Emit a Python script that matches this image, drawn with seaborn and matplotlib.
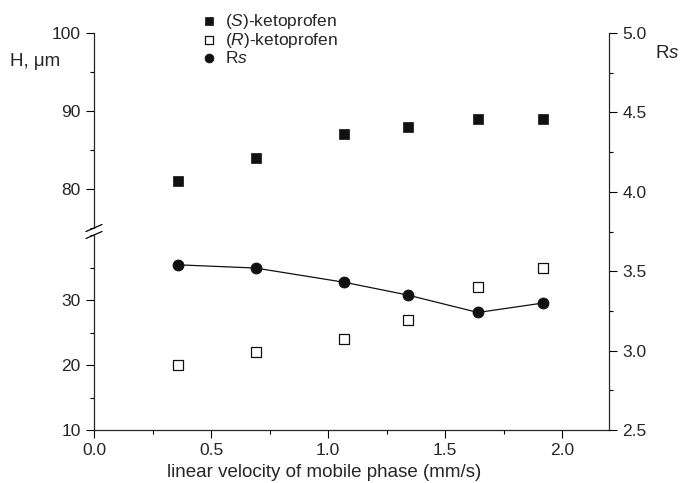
import matplotlib
matplotlib.use("Agg")
import matplotlib.pyplot as plt
import seaborn as sns
import pandas as pd
from matplotlib.ticker import MultipleLocator

# data
velocity = [0.36, 0.69, 1.07, 1.34, 1.64, 1.92]
h_s_keto = [81, 84, 87, 88, 89, 89]
h_r_keto = [20, 22, 24, 27, 32, 35]
rs_values = [3.54, 3.52, 3.43, 3.35, 3.24, 3.30]

df = pd.DataFrame({"u": velocity, "hs": h_s_keto, "hr": h_r_keto, "rs": rs_values})

sns.set_style("ticks")
plt.rcParams["font.family"] = ["Liberation Sans", "DejaVu Sans"]
plt.rcParams["mathtext.fontset"] = "custom"
plt.rcParams["mathtext.rm"] = "Liberation Sans"
plt.rcParams["mathtext.it"] = "Liberation Sans:italic"
plt.rcParams["font.size"] = 12.5

fig = plt.figure(figsize=(6.81, 4.83), dpi=100)
W, H = 681, 483
x0, x1 = 94, 609


def pos(top, bottom):
    return [x0 / W, 1 - bottom / H, (x1 - x0) / W, (bottom - top) / H]


ax_top = fig.add_axes(pos(33, 228))
ax_bot = fig.add_axes(pos(235, 430))
ax_rs = fig.add_axes(pos(33, 430))

for ax in (ax_top, ax_bot, ax_rs):
    ax.set_xlim(0, 2.2)
    ax.patch.set_alpha(0)
    for s in ax.spines.values():
        s.set_linewidth(0.9)
    ax.tick_params(which="major", length=6, width=0.8, labelsize=12.5, color="black")
    ax.tick_params(which="minor", length=3, width=0.8, color="black")

# upper part of H axis
sns.scatterplot(data=df, x="u", y="hs", ax=ax_top, marker="s", s=55, color="#111111",
                edgecolor="#111111", linewidth=0.5, label="($S$)-ketoprofen", legend=False)
ax_top.set_ylim(75, 100)
ax_top.yaxis.set_minor_locator(MultipleLocator(5))
ax_top.set_yticks([80, 90, 100])
ax_top.spines[["top", "right", "bottom"]].set_visible(False)
ax_top.set_xticks([])
ax_top.set_xlabel("")
ax_top.set_ylabel("")

# lower part of H axis
sns.scatterplot(data=df, x="u", y="hr", ax=ax_bot, marker="s", s=55, facecolor="white",
                edgecolor="#111111", linewidth=0.9, label="($R$)-ketoprofen", legend=False)
ax_bot.set_ylim(10, 40)
ax_bot.set_yticks([10, 20, 30])
ax_bot.yaxis.set_minor_locator(MultipleLocator(5))
ax_bot.xaxis.set_minor_locator(MultipleLocator(0.25))
ax_bot.set_xticks([0.0, 0.5, 1.0, 1.5, 2.0])
ax_bot.set_xticklabels(["0.0", "0.5", "1.0", "1.5", "2.0"])
ax_bot.spines[["top", "right"]].set_visible(False)
ax_bot.set_xlabel("linear velocity of mobile phase (mm/s)", fontsize=13.5, va="top")
ax_bot.xaxis.set_label_coords(0.447, -0.175)
ax_bot.set_ylabel("")

# resolution on the right axis
sns.lineplot(data=df, x="u", y="rs", ax=ax_rs, color="#111111", linewidth=0.9, legend=False)
sns.scatterplot(data=df, x="u", y="rs", ax=ax_rs, marker="o", s=62, color="#111111",
                edgecolor="#111111", label="R$s$", legend=False)
ax_rs.set_ylim(2.5, 5.0)
ax_rs.yaxis.set_major_locator(MultipleLocator(0.5))
ax_rs.yaxis.set_minor_locator(MultipleLocator(0.25))
ax_rs.yaxis.tick_right()
ax_rs.yaxis.set_major_formatter(matplotlib.ticker.FormatStrFormatter("%.1f"))
ax_rs.spines[["top", "left", "bottom"]].set_visible(False)
ax_rs.set_xticks([])
ax_rs.set_xlabel("")
ax_rs.set_ylabel("")

# axis break marks
for ax in (ax_top, ax_bot):
    y = 0 if ax is ax_top else 1
    dx, dy = 8 / (x1 - x0), 3.5 / 195
    ax.plot([-dx, dx], [y - dy, y + dy], transform=ax.transAxes, color="black",
            linewidth=0.9, clip_on=False)

fig.text(10 / W, 1 - 62 / H, "H, μm", fontsize=13.5, va="center", ha="left")
fig.text(655 / W, 1 - 53 / H, "R$s$", fontsize=13.5, va="center", ha="left")

handles = []
labels = []
for ax in (ax_top, ax_bot, ax_rs):
    hd, lb = ax.get_legend_handles_labels()
    handles += hd
    labels += lb
fig.legend(handles, labels, loc="upper left", bbox_to_anchor=(202 / W, 1 - 12 / H),
           frameon=False, fontsize=12.5, handlelength=0.8, handletextpad=0.5,
           labelspacing=0.0, borderpad=0, borderaxespad=0, markerscale=0.8)

fig.savefig("out.png", dpi=100)
